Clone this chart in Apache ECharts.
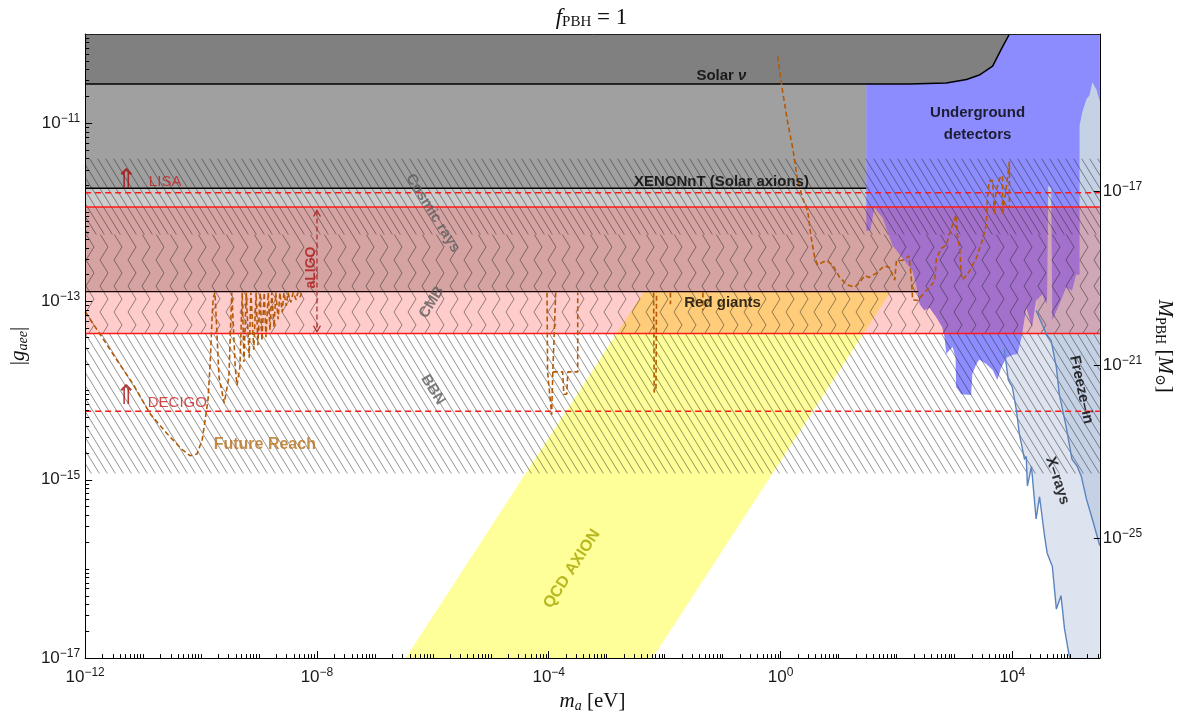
<!DOCTYPE html>
<html>
<head>
<meta charset="utf-8">
<title>Electron coupling of light axions, f_PBH = 1</title>
<script src="https://cdn.jsdelivr.net/npm/echarts@6.0.0/dist/echarts.min.js"></script>
<style>
html, body { margin: 0; padding: 0; background: #fff; }
#chart { width: 1183px; height: 718px; }
</style>
</head>
<body>
<div id="chart"></div>
<script>
// Everything is plotted in decades: x = log10(m_a / eV), y = log10 |g_aee|
const X_RANGE = [-12, 5.51];
const Y_RANGE = [-17, -10];
// right-hand scale, log10(M_PBH / M_sun)
const M_RANGE = [-27.77, -13.36];

const xTickExps = [-12, -8, -4, 0, 4];
const yTickExps = [-17, -15, -13, -11];
const mTickExps = [-25, -21, -17];

// flat limits and reaches (log10 |g_aee|)
const solarNuLimit = -10.56;
const xenonLimit = -11.73;
const lisaReach = -11.78;
const aligoUpper = -11.94;
const aligoLower = -13.36;
const redGiantsLimit = -12.89;
const decigoReach = -14.23;
const cosmicRaysTop = -11.40;
const cmbTop = -12.25;
const bbnBottom = -14.93;
// where the flat limits end (log10 m_a)
const xenonEnd = 1.48;
const redGiantsEnd = 2.38;

// solar neutrino bound, bending up at high mass
const solarNuEdge = [[-12, -10.56], [2.22, -10.56], [2.86, -10.55], [3.21, -10.51], [3.43, -10.46],
  [3.66, -10.36], [3.81, -10.17], [3.95, -10.0]];

// QCD axion band corners
const qcdBand = [[-6.47, -17], [-2.21, -17], [1.90, -12.89], [-2.36, -12.89]];

// underground (direct detection) excluded region
const underground = [[1.48, -10.0], [5.51, -10.0], [5.51, -10.76], [5.45, -10.62], [5.38, -10.54],
  [5.33, -10.69], [5.28, -10.73], [5.21, -10.87], [5.16, -11.03], [5.16, -12.70], [5.10, -12.70],
  [5.03, -12.88], [4.93, -12.84], [4.81, -13.03], [4.69, -13.21], [4.67, -11.73], [4.62, -11.70],
  [4.60, -12.96], [4.59, -13.03], [4.52, -12.92], [4.41, -12.99], [4.34, -13.29], [4.24, -13.07],
  [4.16, -13.40], [4.09, -13.59], [4.00, -13.60], [3.90, -13.63], [3.81, -13.74], [3.74, -13.88],
  [3.66, -13.77], [3.55, -13.70], [3.43, -13.65], [3.38, -13.70], [3.31, -13.81], [3.29, -14.05],
  [3.12, -14.04], [3.03, -13.96], [3.02, -13.63], [2.97, -13.51], [2.91, -13.55], [2.86, -13.59],
  [2.83, -13.40], [2.79, -13.29], [2.69, -13.18], [2.57, -13.07], [2.48, -13.10], [2.40, -13.03],
  [2.34, -12.81], [2.28, -12.66], [2.10, -12.51], [1.93, -12.37], [1.76, -12.06], [1.62, -11.95],
  [1.55, -12.20], [1.48, -12.21]];

// X-ray bound and freeze-in line
const xrayEdge = [[3.86, -13.53], [3.93, -13.88], [4.00, -13.96], [4.07, -14.22], [4.12, -14.48],
  [4.21, -14.77], [4.24, -14.74], [4.26, -15.07], [4.33, -14.85], [4.41, -15.44], [4.47, -15.19],
  [4.55, -15.60], [4.60, -15.82], [4.69, -15.97], [4.76, -16.45], [4.84, -16.30], [4.90, -16.67],
  [4.98, -16.97], [5.00, -17.0]];
const xrayCap = [[5.51, -17], [5.51, -10.5], [5.16, -10.5], [4.60, -11.6], [3.80, -13.4]];
const freezeInEdge = [[4.41, -13.10], [4.59, -13.37], [4.67, -13.44], [4.76, -13.74], [4.81, -14.04],
  [4.93, -14.41], [5.03, -14.77], [5.12, -14.85], [5.19, -14.96], [5.28, -15.22], [5.38, -15.44],
  [5.51, -15.74]];
const freezeInCap = [[5.51, -10.5], [5.16, -10.5], [4.60, -11.6]];

// future reach curves
const reachLowMass = [[-12, -13.12], [-11.74, -13.37], [-11.45, -13.66], [-11.17, -13.93], [-10.88, -14.26],
  [-10.59, -14.48], [-10.33, -14.66], [-10.19, -14.73], [-10.07, -14.71], [-9.98, -14.55], [-9.93, -14.33],
  [-9.88, -14.10], [-9.84, -13.66], [-9.81, -13.18], [-9.79, -12.96], [-9.76, -12.90],
  [-9.69, -13.85], [-9.60, -14.14], [-9.52, -13.85], [-9.47, -12.90], [-9.41, -13.74], [-9.38, -13.94],
  [-9.33, -13.74], [-9.29, -12.90], [-9.26, -13.68], [-9.22, -12.90], [-9.17, -13.63], [-9.14, -12.90],
  [-9.09, -13.54], [-9.05, -12.90], [-9.02, -13.49], [-8.98, -12.90], [-8.95, -13.44], [-8.91, -12.90],
  [-8.88, -13.40], [-8.84, -12.90], [-8.81, -13.32], [-8.78, -12.90], [-8.74, -13.29], [-8.71, -12.90],
  [-8.67, -13.20], [-8.64, -12.90], [-8.60, -13.12], [-8.57, -12.90], [-8.53, -13.05], [-8.50, -12.90],
  [-8.45, -13.01], [-8.41, -12.90], [-8.36, -12.98], [-8.33, -12.90], [-8.29, -12.95], [-8.26, -12.90]];
const reachMidA = [[-4.03, -12.90], [-4.02, -13.79], [-3.95, -14.27], [-3.93, -13.79], [-3.88, -12.90]];
const reachMidB = [[-3.93, -13.79], [-3.76, -13.79], [-3.74, -14.04], [-3.69, -14.04], [-3.67, -13.79],
  [-3.50, -13.79], [-3.50, -12.90]];
const reachMidC = [[-2.19, -12.90], [-2.18, -14.02], [-2.15, -13.98], [-2.14, -12.90]];
const reachMidD = [[-1.90, -12.90], [-1.90, -13.03]];
const reachMidE = [[-1.34, -12.90], [-1.34, -13.10]];
const reachHighMass = [[-0.05, -10.25], [0.03, -10.62], [0.12, -10.98], [0.21, -11.28], [0.29, -11.62],
  [0.38, -11.84], [0.47, -11.99], [0.53, -12.29], [0.59, -12.51], [0.64, -12.59], [0.79, -12.54],
  [0.90, -12.59], [1.02, -12.73], [1.14, -12.81], [1.28, -12.84], [1.36, -12.79], [1.45, -12.71],
  [1.53, -12.73], [1.66, -12.68], [1.79, -12.60], [1.88, -12.62], [1.97, -12.76], [2.00, -12.54],
  [2.10, -12.54], [2.22, -12.49], [2.26, -12.77], [2.28, -12.98], [2.36, -12.99], [2.57, -12.84],
  [2.66, -12.77], [2.69, -12.51], [2.78, -12.40], [2.86, -12.37], [2.91, -12.25], [2.97, -12.14],
  [3.03, -12.03], [3.05, -12.25], [3.09, -12.40], [3.12, -12.70], [3.14, -12.76], [3.26, -12.66],
  [3.38, -12.51], [3.48, -12.32], [3.55, -12.14], [3.57, -11.84], [3.60, -11.65], [3.66, -11.64],
  [3.69, -12.03], [3.72, -11.76], [3.78, -11.62], [3.83, -11.59], [3.83, -12.03], [3.90, -11.70],
  [3.95, -11.43], [3.95, -11.95]];

// aLIGO double arrow
const aligoArrow = [[-8.0, -11.98], [-8.0, -13.34]];

// ---------- fill patterns ----------
function makeTile(w, h, draw) {
  const c = document.createElement('canvas');
  c.width = w; c.height = h;
  const g = c.getContext('2d');
  g.strokeStyle = 'rgba(35,35,35,0.55)';
  g.lineWidth = 0.9;
  draw(g);
  return { type: 'pattern', image: c, repeat: 'repeat' };
}
const hatch = makeTile(8, 13, g => {
  for (let k = -1; k <= 1; k++) { g.beginPath(); g.moveTo(k * 8, 0); g.lineTo(k * 8 + 8, 13); g.stroke(); }
});
const chevron = makeTile(14, 26, g => {
  g.beginPath(); g.moveTo(2, 0); g.lineTo(10, 13); g.lineTo(2, 26); g.stroke();
});

// ---------- helpers ----------
const X0 = X_RANGE[0], X1 = X_RANGE[1], Y0 = Y_RANGE[0], Y1 = Y_RANGE[1];
function rect(xa, xb, ya, yb) { return [[xa, ya], [xb, ya], [xb, yb], [xa, yb]]; }

function area(pts, style, z) {
  return {
    type: 'custom', coordinateSystem: 'cartesian2d', silent: true, z: z, clip: true,
    data: [pts[0]],
    renderItem: (params, api) => ({
      type: 'polygon',
      shape: { points: pts.map(p => api.coord(p)) },
      style: style
    })
  };
}
function curve(pts, color, width, type, z) {
  return {
    type: 'line', data: pts, symbol: 'none', silent: true, z: z, clip: true,
    lineStyle: { color: color, width: width, type: type || 'solid' }
  };
}
function minorTicks(lo, hi, majors) {
  const out = [];
  for (let k = Math.floor(lo); k <= Math.ceil(hi); k++) {
    for (let m = 1; m <= 9; m++) {
      const v = k + Math.log10(m);
      if (v > lo + 1e-6 && v < hi - 1e-6 && majors.indexOf(v) < 0) out.push(v);
    }
  }
  return out;
}
function expLabel(v) {
  const e = Math.round(v);
  return '{b|10}{s|' + (e < 0 ? '\u2212' + (-e) : String(e)) + '}';
}

const SANS = 'Liberation Sans, Arial, sans-serif';
const SERIF = 'Liberation Serif, DejaVu Serif, serif';
const TICK_RICH = {
  b: { fontSize: 17, fontFamily: SANS, color: '#1a1a1a' },
  s: { fontSize: 12, fontFamily: SANS, color: '#1a1a1a', padding: [0, 0, 9, 0] }
};
function nameRich(size) {
  const sub = Math.round(size * 0.66);
  return {
    n: { fontSize: size, fontFamily: SERIF, fontWeight: 'normal', color: '#111' },
    i: { fontSize: size, fontFamily: SERIF, fontWeight: 'normal', fontStyle: 'italic', color: '#111' },
    s: { fontSize: sub, fontFamily: SERIF, fontWeight: 'normal', color: '#111', padding: [9, 0, 0, 0] },
    si: { fontSize: sub, fontFamily: SERIF, fontWeight: 'normal', fontStyle: 'italic', color: '#111', padding: [9, 0, 0, 0] }
  };
}
const NAME_RICH = nameRich(21);
const TITLE_RICH = nameRich(23);
const NOTE_RICH = {
  k: { fontSize: 15, fontWeight: 'bold', fontFamily: SANS, color: '#000', lineHeight: 22 },
  ki: { fontSize: 15, fontWeight: 'bold', fontStyle: 'italic', fontFamily: SANS, color: '#000' },
  g: { fontSize: 15, fontWeight: 'bold', fontFamily: SANS, color: '#5e5e5e' },
  o: { fontSize: 16, fontWeight: 'bold', fontFamily: SANS, color: '#b8701c' },
  r: { fontSize: 15, fontFamily: SANS, color: '#cc1f1f' },
  rb: { fontSize: 14, fontWeight: 'bold', fontFamily: SANS, color: '#b01818' },
  ar: { fontSize: 27, fontFamily: 'DejaVu Sans', color: '#a50d0d' },
  q: { fontSize: 16, fontWeight: 'bold', fontFamily: SANS, color: '#a5a500' }
};

const notes = [
  { text: '{k|Solar }{ki|\u03bd}', at: [-1.02, -10.47], rotate: 0 },
  { text: '{k|XENONnT (Solar axions)}', at: [-1.02, -11.66], rotate: 0 },
  { text: '{k|Underground}\n{k|detectors}', at: [3.40, -11.01], rotate: 0 },
  { text: '{k|Red giants}', at: [-1.00, -13.02], rotate: 0 },
  { text: '{g|Cosmic rays}', at: [-6.00, -12.01], rotate: -58 },
  { text: '{g|CMB}', at: [-6.02, -13.01], rotate: 58 },
  { text: '{g|BBN}', at: [-6.00, -13.99], rotate: -58 },
  { text: '{o|Future Reach}', at: [-8.90, -14.61], rotate: 0 },
  { text: '{r|LISA}', at: [-10.62, -11.66], rotate: 0 },
  { text: '{r|DECIGO}', at: [-10.41, -14.14], rotate: 0 },
  { text: '{ar|\u21d1}', at: [-11.29, -11.65], rotate: 0 },
  { text: '{ar|\u21d1}', at: [-11.29, -14.07], rotate: 0 },
  { text: '{rb|aLIGO}', at: [-8.10, -12.62], rotate: 90 },
  { text: '{k|Freeze\u2013in}', at: [5.19, -13.99], rotate: -78 },
  { text: '{k|X\u2013rays}', at: [4.78, -15.01], rotate: -72 },
  { text: '{q|QCD AXION}', at: [-3.60, -16.00], rotate: 57 }
];

const ORANGE = '#b45a06';
const DASH_O = [5, 3];
const RED = '#ff1a1a';
const XRAY_LINE = '#5b84be';

const series = [
  area(qcdBand, { fill: '#ffff99' }, 1),
  area(rect(X0, X1, redGiantsLimit, Y1), { fill: '#cccccc' }, 2),
  area(rect(X0, xenonEnd, xenonLimit, Y1), { fill: '#a0a0a0' }, 3),
  area(xrayEdge.concat(xrayCap), { fill: '#dde3ef' }, 4),
  area(freezeInEdge.concat(freezeInCap), { fill: '#c5d1e5' }, 4),
  area(underground, { fill: '#8c8cff' }, 5),
  area(rect(X0, X1, aligoUpper, aligoLower), { fill: 'rgba(255,0,0,0.2)' }, 6),
  area(solarNuEdge.concat([[X0, Y1]]), { fill: '#808080' }, 7),
  area(rect(X0, X1, cosmicRaysTop, cmbTop), { fill: hatch }, 8),
  area(rect(X0, X1, cmbTop, aligoLower), { fill: chevron }, 8),
  area(rect(X0, X1, aligoLower, bbnBottom), { fill: hatch }, 8),

  curve(solarNuEdge, '#000', 1.5, 'solid', 9),
  curve([[X0, xenonLimit], [xenonEnd, xenonLimit]], '#000', 1.5, 'solid', 9),
  curve([[X0, redGiantsLimit], [redGiantsEnd, redGiantsLimit]], '#1a0000', 1.4, 'solid', 9),
  curve([[X0, aligoUpper], [X1, aligoUpper]], RED, 1.5, 'solid', 9),
  curve([[X0, aligoLower], [X1, aligoLower]], RED, 1.5, 'solid', 9),
  curve([[X0, lisaReach], [X1, lisaReach]], RED, 1.5, [6, 4], 9),
  curve([[X0, decigoReach], [X1, decigoReach]], RED, 1.5, [6, 4], 9),
  curve(xrayEdge, XRAY_LINE, 1.4, 'solid', 9),
  curve(freezeInEdge, XRAY_LINE, 1.4, 'solid', 9),

  curve(reachLowMass, ORANGE, 1.6, DASH_O, 10),
  curve(reachMidA, ORANGE, 1.6, DASH_O, 10),
  curve(reachMidB, ORANGE, 1.6, DASH_O, 10),
  curve(reachMidC, ORANGE, 1.6, DASH_O, 10),
  curve(reachMidD, ORANGE, 1.6, DASH_O, 10),
  curve(reachMidE, ORANGE, 1.6, DASH_O, 10),
  curve(reachHighMass, ORANGE, 1.6, DASH_O, 10),

  {
    type: 'line', silent: true, z: 11,
    data: [
      { value: aligoArrow[0], symbolOffset: [0, 3] },
      { value: aligoArrow[1], symbolRotate: 180, symbolOffset: [0, -3] }
    ],
    showSymbol: true, symbol: 'path://M0,6 L4,0 L8,6', symbolSize: [7, 6],
    itemStyle: { color: 'rgba(0,0,0,0)', borderColor: '#b03030', borderWidth: 1.2 },
    lineStyle: { color: '#b03030', width: 1.3, type: [5, 3] }
  },
  {
    type: 'scatter', silent: true, z: 20, symbolSize: 1,
    itemStyle: { color: 'rgba(0,0,0,0)' },
    label: { show: true, position: 'inside', rich: NOTE_RICH },
    data: notes.map(n => ({
      value: n.at,
      label: { show: true, position: 'inside', formatter: n.text, rotate: n.rotate, rich: NOTE_RICH }
    }))
  }
];

const axisBase = {
  type: 'value', z: 50, splitLine: { show: false }
};

const option = {
  animation: false,
  backgroundColor: '#ffffff',
  title: {
    text: '{i|f}{s|PBH}{n| = 1}', left: 'center', top: 1,
    textStyle: { fontWeight: 'normal', rich: TITLE_RICH }
  },
  grid: { left: 85, right: 82, top: 34, bottom: 55 },
  xAxis: [
    Object.assign({}, axisBase, {
      min: X0, max: X1, position: 'bottom',
      axisLine: { show: true, onZero: false, lineStyle: { color: '#000', width: 1 } },
      axisTick: { show: true, inside: true, length: 7, customValues: xTickExps, lineStyle: { color: '#000' } },
      axisLabel: { show: true, customValues: xTickExps, formatter: expLabel, margin: 9, rich: TICK_RICH },
      name: '{i|m}{si|a}{n| [eV]}', nameLocation: 'middle', nameGap: 30,
      nameTextStyle: { rich: NAME_RICH }
    }),
    Object.assign({}, axisBase, {
      min: X0, max: X1, position: 'bottom',
      axisLine: { show: false, onZero: false },
      axisTick: { show: true, inside: true, length: 4, customValues: minorTicks(X0, X1, xTickExps), lineStyle: { color: '#000' } },
      axisLabel: { show: false }
    }),
    Object.assign({}, axisBase, {
      min: X0, max: X1, position: 'top',
      axisLine: { show: true, onZero: false, lineStyle: { color: '#222', width: 1 } },
      axisTick: { show: false }, axisLabel: { show: false }
    })
  ],
  yAxis: [
    Object.assign({}, axisBase, {
      min: Y0, max: Y1, position: 'left',
      axisLine: { show: true, onZero: false, lineStyle: { color: '#000', width: 1 } },
      axisTick: { show: true, inside: true, length: 7, customValues: yTickExps, lineStyle: { color: '#000' } },
      axisLabel: { show: true, customValues: yTickExps, formatter: expLabel, margin: 5, rich: TICK_RICH },
      name: '{n||}{i|g}{si|aee}{n||}', nameLocation: 'middle', nameGap: 52, nameRotate: 90,
      nameTextStyle: { rich: NAME_RICH }
    }),
    Object.assign({}, axisBase, {
      min: Y0, max: Y1, position: 'left',
      axisLine: { show: false, onZero: false },
      axisTick: { show: true, inside: true, length: 4, customValues: minorTicks(Y0, Y1, yTickExps), lineStyle: { color: '#000' } },
      axisLabel: { show: false }
    }),
    Object.assign({}, axisBase, {
      min: M_RANGE[0], max: M_RANGE[1], position: 'right',
      axisLine: { show: true, onZero: false, lineStyle: { color: '#000', width: 1 } },
      axisTick: { show: true, inside: true, length: 6, customValues: mTickExps, lineStyle: { color: '#000' } },
      axisLabel: { show: true, customValues: mTickExps, formatter: expLabel, margin: 3, rich: TICK_RICH },
      name: '{i|M}{s|PBH}{n| [}{i|M}{s|\u2299}{n|]}', nameLocation: 'middle', nameGap: 52, nameRotate: -90,
      nameTextStyle: { rich: NAME_RICH }
    })
  ],
  series: series
};

const chart = echarts.init(document.getElementById('chart'), null, { renderer: 'canvas' });
chart.setOption(option);
</script>
</body>
</html>
